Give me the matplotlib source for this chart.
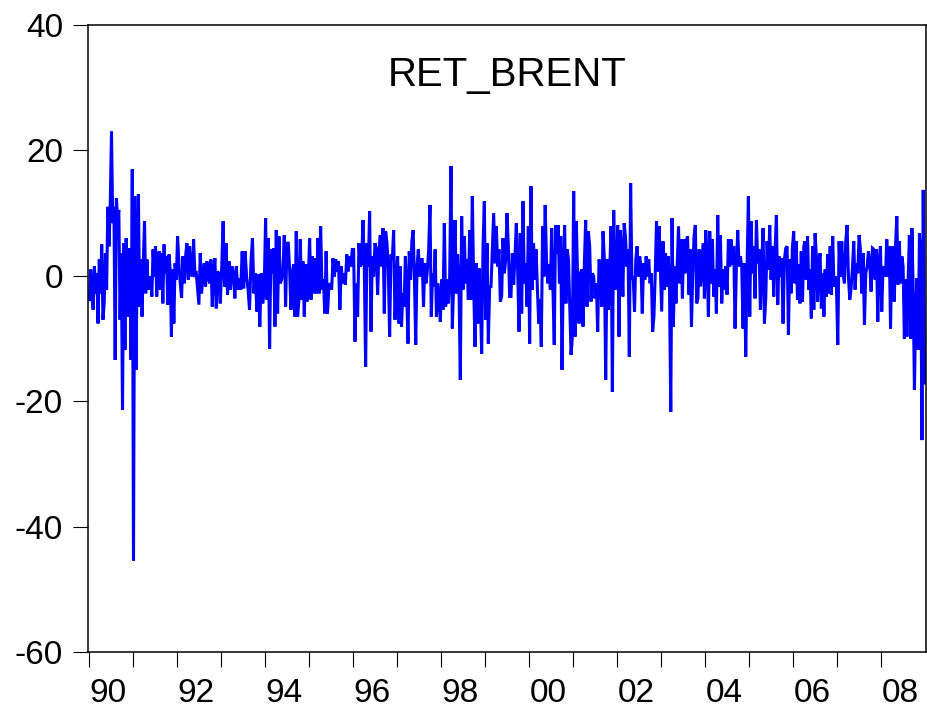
import numpy as np
import matplotlib
matplotlib.use("Agg")
import matplotlib.pyplot as plt
from matplotlib.ticker import FixedLocator, NullFormatter

# weekly Brent returns (%), one list per calendar year
RET_1990 = [-3.8, 1.0, -2.8, -5.4, 1.5, -2.8, 0.4, -7.6, 2.6, -2.8, 5.0, -7.0, -4.4, 3.6, -2.2,
            11.0, 4.7, 11.6, 23.0, 8.4, 11.0, -13.4, 12.4, 8.9, 10.5, -7.0, 3.6, -21.4, 5.2,
            -11.8, 6.0, -6.5, -3.3, 4.4, -13.4, 17.0]
RET_1991 = [-45.4, 12.7, -15.0, 1.0, 13.0, -4.9, 2.6, -6.5, 2.0, 8.7, -2.8, 2.6, -2.2, -1.2,
            -0.1, -3.3, 4.2, -0.1, 4.7, -3.3, 1.5, 3.9, -2.2, 3.6, -4.4, 5.0, 0.4, 3.1, -4.6,
            3.4, 1.0, -9.7, 1.0, -7.6, 2.0, -0.6]
RET_1992 = [6.3, 2.0, -1.2, -3.5, 3.1, -1.2, 3.1, 5.2, -0.6, 4.7, 0.4, -0.1, 5.8, 0.2, 0.4,
            -2.2, -4.6, 3.6, -2.8, -0.1, 2.0, -1.7, 2.3, -0.1, -1.2, 2.6, -4.9, 0.4, 2.8, -5.2,
            0.7, 0.4, -4.4]
RET_1993 = [1.0, 8.7, -1.7, 5.2, -3.0, 2.3, -2.2, 1.5, 0.4, -3.6, 1.5, -2.2, -0.4, -2.2, 3.9,
            -2.0, 3.9, -0.1, -2.2, -5.4, 2.3, 6.0, -2.8, 0.4, -5.7, 0.2, -8.1, 0.4, -4.4, -2.2]
RET_1994 = [9.2, -3.8, 6.0, -11.6, 4.2, 0.4, 4.4, -8.1, 7.3, -6.0, 6.3, -1.2, -0.6, 1.0, 6.5,
            -4.9, 5.2, 5.2, 1.0, -5.4, 0.4, 1.8, -6.5, 7.1, -6.5, -3.8, 5.8, -3.8, 2.3, -6.5,
            1.8, -4.1, -0.6]
RET_1995 = [6.0, -3.8, 3.1, -2.8, 2.8, -2.8, 6.0, -2.8, 7.9, -2.2, -0.6, -6.0, 3.9, -6.0, -1.7,
            -1.2, -2.2, 2.8, -0.1, 2.6, 0.7, 2.3, -5.4, 1.5, -1.2, 0.4, -1.4, 3.4, 0.7, 3.1,
            1.5, 4.2]
RET_1996 = [4.2, -10.5, -1.2, -6.5, 5.2, 1.5, 2.0, 8.9, 1.5, -14.5, 5.2, 1.5, 10.3, -8.9, 3.1,
            -0.1, 5.2, 4.2, -3.0, 4.2, 6.5, 1.5, 7.6, -6.0, 7.1, 5.2, 1.0, -9.7, 3.4, 2.6, 7.3,
            -7.0, -1.2]
RET_1997 = [3.1, -7.6, 1.5, -8.1, -2.8, -4.9, 3.1, -2.2, -10.8, 3.9, -0.6, 5.5, 7.3, -0.6,
            -11.0, 1.5, 4.2, -0.1, 2.6, 2.6, -4.9, 2.0, -1.2, 1.0, 4.2, 11.3, -6.5, 0.4, -1.7,
            4.2, -6.5, -1.2, -3.3, -7.3]
RET_1998 = [-0.6, -5.4, 8.4, -4.9, -0.6, -4.4, -0.6, 17.5, -8.4, -1.2, 8.9, -2.8, 3.4, -1.7,
            -16.6, 9.5, -2.2, 6.3, -1.2, 2.6, -3.8, 7.3, -3.8, 12.7, -1.2, -11.3, 2.0, -7.6,
            1.2, -3.6, -12.4, 4.4, 11.9]
RET_1999 = [-7.0, 5.2, -10.8, -1.7, -1.7, 4.2, 10.0, 2.0, 7.9, 1.5, 4.2, -4.1, -3.3, 6.0, 0.4,
            2.6, 10.0, 4.7, -3.3, -3.3, 3.6, -1.4, 3.1, 8.4, 1.0, -8.9, 6.8, -6.0, 11.9, -1.2,
            2.0, -4.9, 7.9]
RET_2000 = [-10.8, 14.3, -2.2, 5.2, -0.6, 4.2, -2.2, -7.6, -3.8, -11.3, 7.9, -0.1, 11.3, 2.6,
            -1.2, 1.8, -2.2, 7.6, -2.2, -11.0, 8.1, 3.6, 8.1, -1.2, 6.3, -15.0, 0.4, 8.1, -4.4,
            4.2, 2.6, -4.9, -12.6, -9.7]
RET_2001 = [13.5, -9.7, 8.7, -1.2, -7.6, 0.4, 1.0, -8.1, 2.0, 8.9, -4.9, 7.1, 4.7, -4.1, 0.4,
            -0.1, -3.6, -1.2, -8.9, 2.6, 1.5, -4.9, 7.1, 2.6, -16.6, 2.6, -5.4, 0.4, 7.9, -18.5,
            10.5, -2.2, -0.6]
RET_2002 = [8.1, -9.7, 7.3, 3.6, -3.3, 8.4, 6.3, 1.5, 4.2, -12.9, 14.8, -0.6, -0.1, -5.7, 2.6,
            4.7, -0.1, 3.1, 1.5, -6.0, 2.0, -0.6, 3.1, -0.1, 2.6, -1.2, 0.4, -8.9, -6.5, 0.2,
            8.7, 0.7, 7.9, 1.0]
RET_2003 = [-5.7, 5.5, -2.2, 3.6, -1.7, 3.1, -1.2, -21.7, 9.2, -8.1, 1.5, -4.4, 1.5, 7.9, -1.2,
            5.8, -3.6, 5.8, 0.4, 5.5, 6.3, -3.0, 4.2, -8.1, 0.4, 6.3, 8.1, -4.4, -3.6, 4.2, -1.7,
            1.8, 5.2, -3.6]
RET_2004 = [7.3, 3.1, -6.5, 7.1, -1.2, 5.8, -3.3, 1.0, -6.0, 9.7, -1.7, 6.5, -4.4, 1.0, -2.2,
            1.5, -3.0, 5.8, 1.5, 5.8, 1.8, 4.7, -8.4, 1.5, 7.3, 1.5, 3.1, 1.5, -8.4, 2.0, -12.9,
            1.5, 12.7]
RET_2005 = [-6.5, 8.7, 0.4, 4.7, -3.6, 8.9, 2.0, 4.2, -5.4, 1.5, 7.6, -7.6, -3.6, 5.5, 1.0,
            8.1, -0.6, 4.7, -3.3, 4.2, 9.7, -4.6, 3.1, -0.1, 2.8, -7.6, 2.6, 4.4, 4.7, -9.4,
            2.6, -2.8, 4.4]
RET_2006 = [7.1, -1.2, 5.5, -3.8, 1.8, -4.4, 3.9, -4.1, 4.7, 5.5, -0.6, 6.3, -2.2, 1.0, -6.8,
            4.7, -5.4, 6.8, 3.1, -4.1, 2.3, 3.6, -5.2, 0.4, -6.5, 1.0, -3.3, 3.4, -2.8, 4.7,
            -3.0, 6.3, -1.7, -0.1, -1.7]
RET_2007 = [-11.0, 5.5, -0.1, 5.5, 0.2, -1.2, 5.5, 8.1, -0.1, -3.8, -2.0, 1.2, 5.5, -2.2, 2.0,
            0.4, 6.5, 4.2, -2.8, 3.6, -7.8, 0.4, 1.5, 3.9, 2.0, -2.5, 4.4, 4.2, -0.6, 4.2, -7.3,
            2.3, 4.7]
RET_2008 = [-5.7, 1.0, 1.5, -0.1, 5.8, -0.1, 4.7, -8.4, 3.1, 4.7, -4.1, 5.0, 9.5, -1.4, 5.5,
            -1.2, 3.1, 1.5, -10.0, -0.6, -9.7, -0.6, 6.5, -10.0, 7.6, -2.2, -18.2, -5.4, -0.4,
            -11.8, 6.8, 3.1, -26.2, 13.7, -17.1]

YEARS = list(range(1990, 2009))
SERIES = [RET_1990, RET_1991, RET_1992, RET_1993, RET_1994, RET_1995, RET_1996, RET_1997,
          RET_1998, RET_1999, RET_2000, RET_2001, RET_2002, RET_2003, RET_2004, RET_2005,
          RET_2006, RET_2007, RET_2008]
YTICKS = [-60, -40, -20, 0, 20, 40]
XLABEL_YEARS = list(range(1990, 2009, 2))
TITLE = "RET_BRENT"

plt.rcParams.update({"font.family": ["Liberation Sans", "DejaVu Sans"],
                     "axes.linewidth": 1.1})

t, y = [], []
for yr, vals in zip(YEARS, SERIES):
    n = len(vals)
    t.extend(yr + (np.arange(n) + 0.5) / n)
    y.extend(vals)

fig = plt.figure(figsize=(9.28, 7.13), dpi=100)
ax = fig.add_axes([88 / 928, 1 - 652 / 713, 838 / 928, 627 / 713])
ax.plot(t, y, color="#0000ff", lw=2.2, solid_joinstyle="miter")

ax.set_xlim(1989.98, 2009.02)
ax.set_ylim(-60, 40)
ax.set_yticks(YTICKS)
ax.set_yticklabels([str(v) for v in YTICKS])
ax.tick_params(axis="y", direction="out", length=11, width=0.8, pad=7, labelsize=24)

# year ticks on the axis, labels centred on the year interval
ax.xaxis.set_major_locator(FixedLocator(YEARS))
ax.xaxis.set_major_formatter(NullFormatter())
ax.xaxis.set_minor_locator(FixedLocator([v + 0.43 for v in XLABEL_YEARS]))
ax.set_xticklabels([f"{v % 100:02d}" for v in XLABEL_YEARS], minor=True)
ax.tick_params(axis="x", which="major", direction="out", length=11, width=0.8)
ax.tick_params(axis="x", which="minor", length=0, pad=19, labelsize=24)
ax.tick_params(top=False, right=False)

ax.text(0.5, 0.92, TITLE, transform=ax.transAxes, ha="center", va="center", fontsize=29)

fig.savefig("out.png", dpi=100)
